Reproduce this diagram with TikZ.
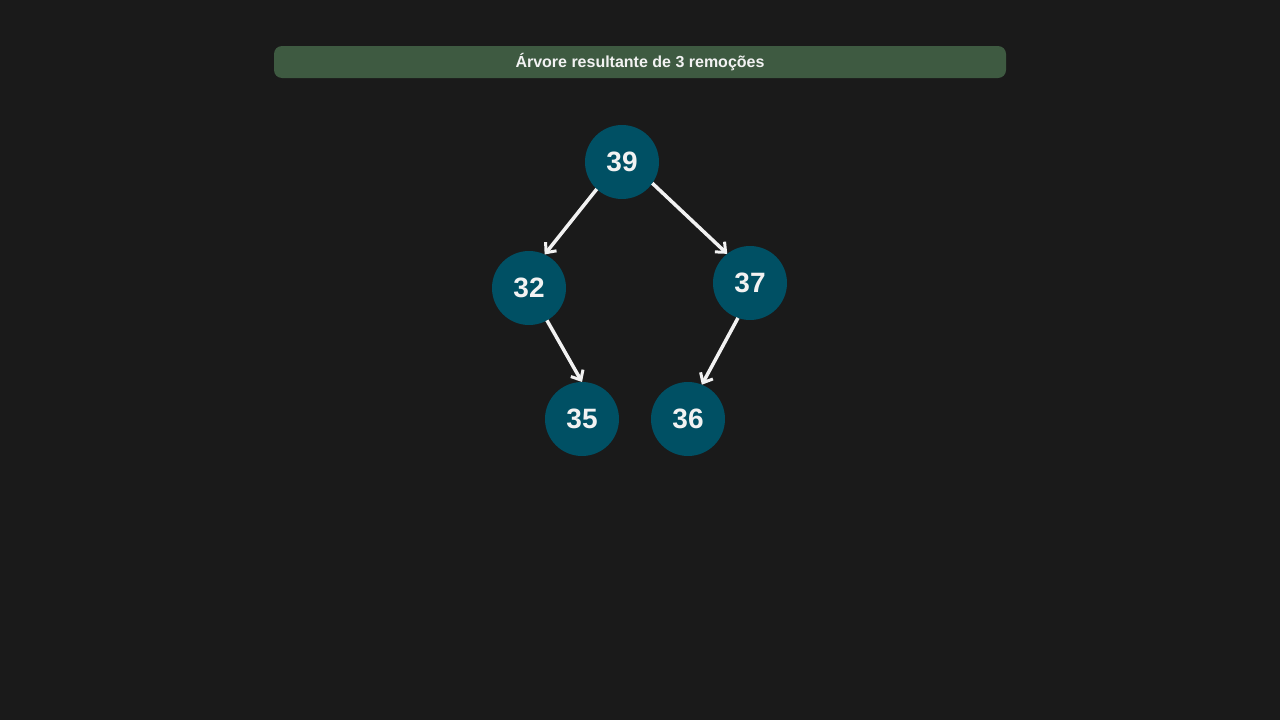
\documentclass[tikz,border=0pt]{standalone}
\usepackage{fontspec}
\setmainfont{Liberation Sans}
\usetikzlibrary{arrows.meta}
\definecolor{bg}{HTML}{1A1A1A}
\definecolor{barfill}{HTML}{3E5A41}
\definecolor{nodefill}{HTML}{005064}
\definecolor{fg}{HTML}{F2F2F2}
\begin{document}
\begin{tikzpicture}[x=1pt,y=-1pt,
  treenode/.style={circle,fill=nodefill,minimum size=74pt,inner sep=0pt,outer sep=0pt,
    text=fg,font=\fontsize{28}{32}\selectfont\bfseries},
  edge/.style={draw=fg,line width=3.5pt,-{Straight Barb[length=8pt,width=14pt,line width=3pt]}},
  titlebar/.style={fill=barfill,rounded corners=8pt,minimum width=732pt,minimum height=32pt,
    inner sep=0pt,text=fg,font=\fontsize{16}{19}\selectfont\bfseries}]
\fill[bg] (0,0) rectangle (1280,720);
\useasboundingbox (0,0) rectangle (1280,720);
\node[titlebar] (title) at (640,62) {Árvore resultante de 3 remoções};
\node[treenode] (n39) at (622,162) {39};
\node[treenode] (n32) at (529,288) {32};
\node[treenode] (n37) at (750,283) {37};
\node[treenode] (n35) at (582,419) {35};
\node[treenode] (n36) at (688,419) {36};
\draw[edge] (n39.227) -- (n32.65);
\draw[edge] (n39.325) -- (n37.128);
\draw[edge] (n32.299) -- (n35.90);
\draw[edge] (n37.251) -- (n36.68);
\end{tikzpicture}
\end{document}
